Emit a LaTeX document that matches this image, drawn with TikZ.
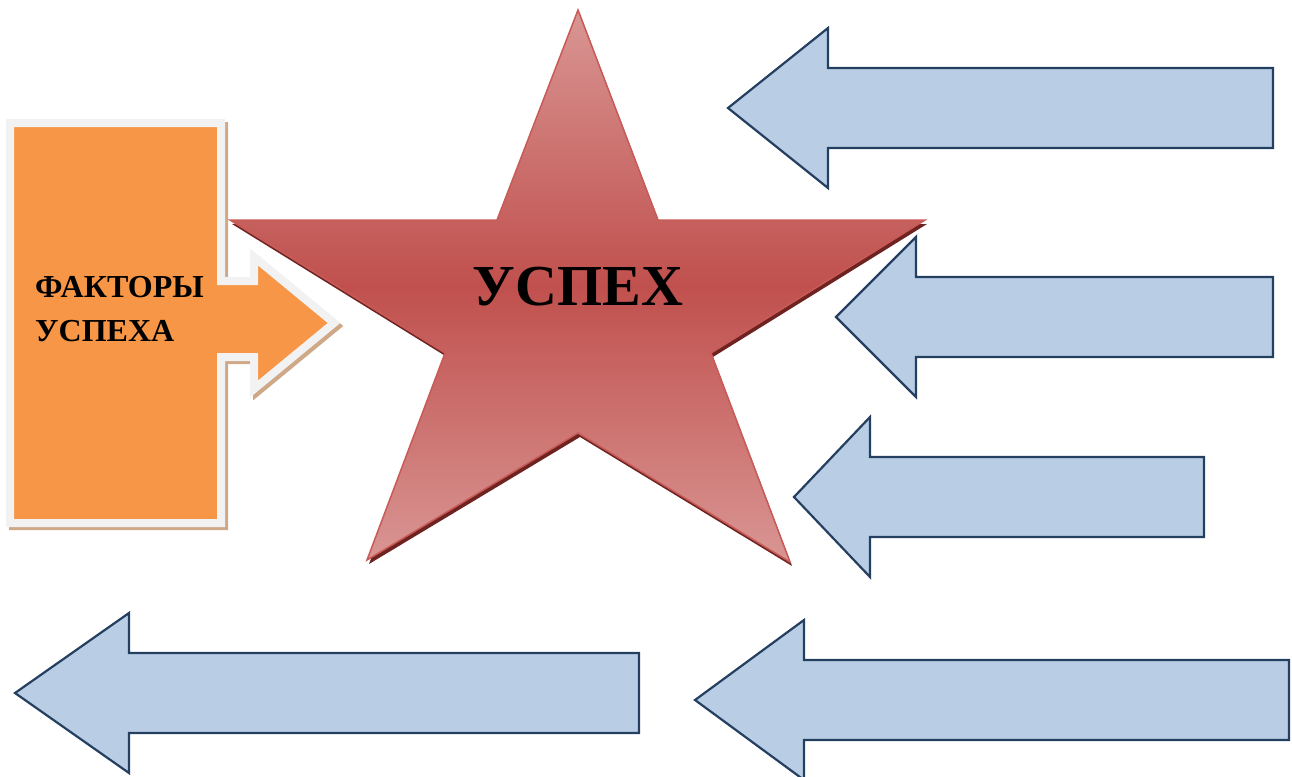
\documentclass[tikz,border=0pt]{standalone}
\usepackage{fontspec}
\setmainfont{Liberation Serif}
\definecolor{starred}{HTML}{C0504D}
\definecolor{starlight}{HTML}{D99694}
\definecolor{starline}{HTML}{C85A57}
\definecolor{starshade}{HTML}{6E2321}
\definecolor{boxorange}{HTML}{F79646}
\definecolor{boxrim}{HTML}{F2F2F2}
\definecolor{boxshade}{HTML}{CFA888}
\definecolor{arrowfill}{HTML}{B9CDE5}
\definecolor{arrowline}{HTML}{243F60}
\newcommand{\starpts}{(578,10) -- (658,220) -- (925,220) -- (711,353) -- (790,562) -- (578,433) -- (367,560) -- (445,353) -- (230,220) -- (497,220) -- cycle}
\newcommand{\boxpts}{(10,123) -- (221,123) -- (221,281) -- (254,281) -- (254,257) -- (334,323) -- (254,389) -- (254,357) -- (221,357) -- (221,523) -- (10,523) -- cycle}
\begin{document}
\begin{tikzpicture}[x=1pt,y=-1pt,
    leftarrow/.style={fill=arrowfill,draw=arrowline,line width=2.2pt},
    label/.style={font=\bfseries,inner sep=0pt}]
      \useasboundingbox (0,0) rectangle (1292,776);
      % orange block arrow
      \draw[shift={(3,3)},boxshade,line width=8pt] \boxpts;
      \draw[fill=boxorange,draw=boxrim,line width=8pt] \boxpts;
      \node[label,anchor=base west,font=\bfseries\fontsize{32}{44}\selectfont] (factors) at (35,297) {ФАКТОРЫ};
      \node[label,anchor=base west,font=\bfseries\fontsize{32}{44}\selectfont] (factors2) at (35,341) {УСПЕХА};
      % star
      \fill[shift={(2,4)},starshade] \starpts;
      \shade[top color=starlight,bottom color=starlight,middle color=starred,draw=starline,line width=1.5pt] \starpts;
      \node[label,anchor=base,font=\bfseries\fontsize{58}{60}\selectfont] (success) at (578,305) {УСПЕХ};
      % blue arrows
      \draw[leftarrow] (728,108) -- (828,28) -- (828,68) -- (1273,68) -- (1273,148) -- (828,148) -- (828,188) -- cycle;
      \draw[leftarrow] (836,317) -- (916,237) -- (916,277) -- (1273,277) -- (1273,357) -- (916,357) -- (916,397) -- cycle;
      \draw[leftarrow] (794,497) -- (870,417) -- (870,457) -- (1204,457) -- (1204,537) -- (870,537) -- (870,577) -- cycle;
      \draw[leftarrow] (695,700) -- (804,620) -- (804,660) -- (1289,660) -- (1289,740) -- (804,740) -- (804,780) -- cycle;
      \draw[leftarrow] (15,693) -- (129,613) -- (129,653) -- (639,653) -- (639,733) -- (129,733) -- (129,773) -- cycle;
    \end{tikzpicture}
\end{document}
